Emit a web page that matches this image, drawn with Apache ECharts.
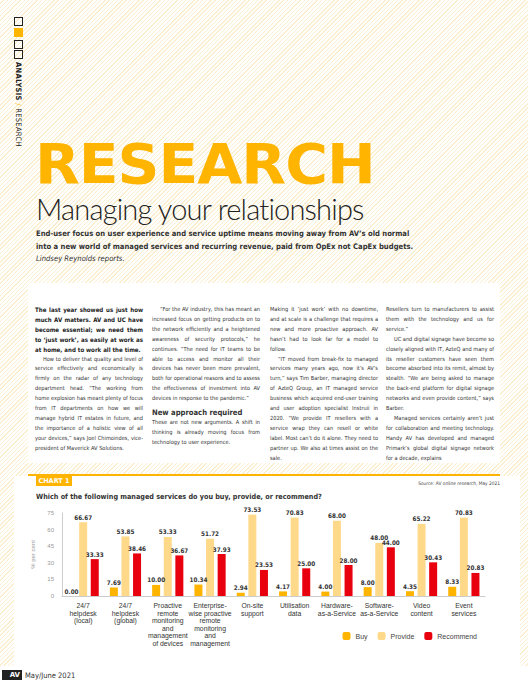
<!DOCTYPE html>
<html><head><meta charset="utf-8">
<script src="https://cdn.jsdelivr.net/npm/echarts@6/dist/echarts.min.js"></script>
<style>
body{margin:0;width:528px;height:694px;position:relative;overflow:hidden;font-family:"DejaVu Sans Condensed","Liberation Sans Narrow",sans-serif;color:#222;
background:repeating-linear-gradient(135deg,#fff 0 2px,#fbefd0 2px 3px);}
.abs{position:absolute}
.col{position:absolute;top:305px;width:108px;font-size:5.6px;line-height:9.9px;text-align:justify;color:#333}
.col p{margin:0;text-indent:8px}
.col p.first{text-indent:0}
</style></head><body>
<div class="abs" style="left:14px;top:17px;width:7px;height:7px;border:1.3px solid #222"></div>
<div class="abs" style="left:14px;top:28px;width:9px;height:9px;background:#FFB400"></div>
<div class="abs" style="left:14px;top:40px;width:7px;height:7px;border:1.3px solid #222"></div>
<div class="abs" style="left:14px;top:50px;width:7px;height:7px;border:1.3px solid #222"></div>
<div class="abs" style="left:12px;top:62px;transform-origin:0 0;transform:translate(11px,0) rotate(90deg);font-size:7.5px;white-space:nowrap;letter-spacing:0.3px"><b>ANALYSIS</b> <span style="color:#FFB400">/</span> RESEARCH</div>
<div class="abs" style="left:35px;top:137px;font:bold 55px/55px 'DejaVu Sans';color:#FFB400;letter-spacing:-1px;white-space:nowrap;transform-origin:0 0;transform:scaleX(1.06)">RESEARCH</div>
<div class="abs" style="left:36px;top:193px;font:300 29px/32px Lato;color:#222;letter-spacing:-0.8px;white-space:nowrap">Managing your relationships</div>
<div class="abs" style="left:36px;top:228px;font:bold 7.6px/12.5px 'DejaVu Sans Condensed';color:#333;white-space:nowrap">End-user focus on user experience and service uptime means moving away from AV’s old normal<br>into a new world of managed services and recurring revenue, paid from OpEx not CapEx budgets.<br><i style="font-weight:normal">Lindsey Reynolds reports.</i></div>
<div class="abs" style="left:28px;top:283px;width:472px;height:180px;background:#fff"></div>
<div class="col" style="left:35px"><p class="first" style="font-weight:bold;color:#222;font-size:6.1px">The last year showed us just how much AV matters. AV and UC have become essential; we need them to ‘just work’, as easily at work as at home, and to work all the time.</p><p>How to deliver that quality and level of service effectively and economically is firmly on the radar of any technology department head. “The working from home explosion has meant plenty of focus from IT departments on how we will manage hybrid IT estates in future, and the importance of a holistic view of all your devices,” says Joel Chimoindes, vice-president of Maverick AV Solutions.</p></div>
<div class="col" style="left:152px"><p>“For the AV industry, this has meant an increased focus on getting products on to the network efficiently and a heightened awareness of security protocols,” he continues. “The need for IT teams to be able to access and monitor all their devices has never been more prevalent, both for operational reasons and to assess the effectiveness of investment into AV devices in response to the pandemic.”</p><div style="font:bold 7.6px 'DejaVu Sans Condensed';margin:4px 0 1px;white-space:nowrap">New approach required</div><p class="first">These are not new arguments. A shift in thinking is already moving focus from technology to user experience.</p></div>
<div class="col" style="left:270px"><p class="first">Making it ‘just work’ with no downtime, and at scale is a challenge that requires a new and more proactive approach. AV hasn’t had to look far for a model to follow.</p><p>“IT moved from break-fix to managed services many years ago, now it’s AV’s turn,” says Tim Barber, managing director of AzteQ Group, an IT managed service business which acquired end-user training and user adoption specialist Instruii in 2020. “We provide IT resellers with a service wrap they can resell or white label. Most can’t do it alone. They need to partner up. We also at times assist on the sale.</p></div>
<div class="col" style="left:386px"><p class="first">Resellers turn to manufacturers to assist them with the technology and us for service.”</p><p>UC and digital signage have become so closely aligned with IT, AzteQ and many of its reseller customers have seen them become absorbed into its remit, almost by stealth. “We are being asked to manage the back-end platform for digital signage networks and even provide content,” says Barber.</p><p>Managed services certainly aren’t just for collaboration and meeting technology. Handy AV has developed and managed Primark’s global digital signage network for a decade, explains</p></div>
<div class="abs" style="left:28px;top:474px;width:472px;height:2px;background:#FFB400"></div>
<div class="abs" style="left:14px;top:476px;width:506px;height:190px;background:#fff"></div>
<div class="abs" style="left:36px;top:476px;width:36px;height:10px;background:#FFB400;color:#fff;font:bold 6.5px/10px 'DejaVu Sans';text-align:center">CHART 1</div>
<div class="abs" style="left:400px;top:481px;width:100px;text-align:right;font-size:4.8px;color:#444">Source: AV online research, May 2021</div>
<div class="abs" style="left:36px;top:492px;font:bold 7.2px 'DejaVu Sans Condensed';color:#333;white-space:nowrap">Which of the following managed services do you buy, provide, or recommend?</div>
<div id="c" class="abs" style="left:20px;top:500px;width:500px;height:160px"></div>
<div class="abs" style="left:0;top:666px;width:528px;height:28px;background:#fff"></div>
<div class="abs" style="left:2px;top:670px;width:18px;height:10px;background:#222;color:#fff;font:bold 7px/10px 'DejaVu Sans';text-align:right;padding-right:2px">AV</div>
<div class="abs" style="left:25px;top:671px;font-size:7.5px;color:#333">May/June 2021</div>
<script>
const categories=["24/7\nhelpdesk\n(local)","24/7\nhelpdesk\n(global)","Proactive\nremote\nmonitoring\nand\nmanagement\nof devices","Enterprise-\nwise proactive\nremote\nmonitoring\nand\nmanagement","On-site\nsupport","Utilisation\ndata","Hardware-\nas-a-Service","Software-\nas-a-Service","Video\ncontent","Event\nservices"];
const buy=[0.00,7.69,10.00,10.34,2.94,4.17,4.00,8.00,4.35,8.33];
const provide=[66.67,53.85,53.33,51.72,73.53,70.83,68.00,48.00,65.22,70.83];
const recommend=[33.33,38.46,36.67,37.93,23.53,25.00,28.00,44.00,30.43,20.83];
const yTicks=[0,15,30,45,60,75];
const lbl={show:true,position:'top',formatter:p=>p.value.toFixed(2),fontSize:6.3,fontWeight:'bold',color:'#333',fontFamily:'DejaVu Sans Condensed',distance:2};
const mk=(name,data,color)=>({name,type:'bar',data,itemStyle:{color},label:lbl,barWidth:8,barGap:'45%'});
const ch=echarts.init(document.getElementById('c'),null,{renderer:'svg'});
ch.setOption({animation:false,
grid:{left:42,right:35,top:13,height:83},
legend:{right:38,top:127,itemWidth:8,itemHeight:8,itemGap:10,textStyle:{fontSize:7,color:'#444'},data:['Buy','Provide','Recommend']},
xAxis:{type:'category',data:categories,axisTick:{show:false},axisLine:{lineStyle:{color:'#ccc'}},axisLabel:{interval:0,fontSize:6.8,lineHeight:7.5,color:'#333',margin:6}},
yAxis:{type:'value',min:0,max:75,interval:15,name:'% per cent',nameLocation:'middle',nameGap:24,nameTextStyle:{fontSize:6,color:'#999'},axisLine:{show:true,lineStyle:{color:'#ccc'}},splitLine:{show:false},axisLabel:{fontSize:6,color:'#999',formatter:v=>yTicks.includes(v)?String(v):''}},
series:[mk('Buy',buy,'#FFB400'),mk('Provide',provide,'#FFD98A'),mk('Recommend',recommend,'#E8000F')]});
</script></body></html>
